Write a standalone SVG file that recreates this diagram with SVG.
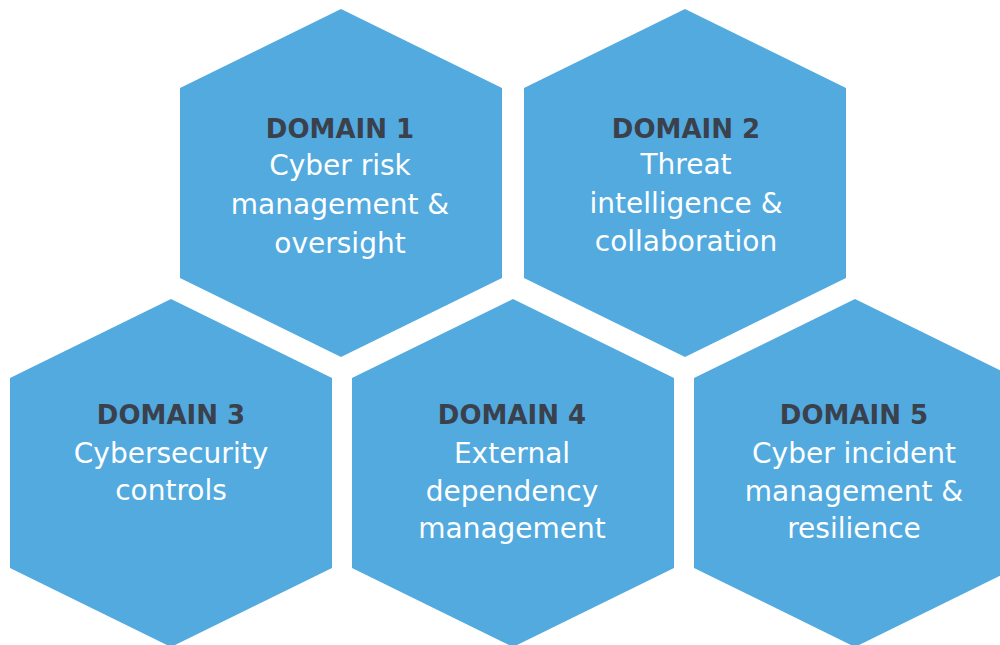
<svg xmlns="http://www.w3.org/2000/svg" width="1000" height="645" viewBox="0 0 1000 645">
<defs>
<style>
.hex{fill:#52aadf}
.t{font-family:"DejaVu Sans",Verdana,sans-serif;text-anchor:middle}
.h{font-size:26px;font-weight:bold;fill:#3a414d}
.b{font-size:28px;fill:#ffffff}
</style>
<polygon id="hx" points="0,-174 161,-95 161,95 0,174 -161,95 -161,-95"/>
</defs>
<rect width="1000" height="645" fill="#ffffff"/>
<g id="connectors"/>
<g id="domain1">
<use href="#hx" class="hex" x="341" y="183"/>
<text class="t h" x="340" y="138">DOMAIN 1</text>
<text class="t b" x="340" y="175">Cyber risk</text>
<text class="t b" x="340" y="214">management &amp;</text>
<text class="t b" x="340" y="253">oversight</text>
</g>
<g id="domain2">
<use href="#hx" class="hex" x="685" y="183"/>
<text class="t h" x="686" y="138">DOMAIN 2</text>
<text class="t b" x="686" y="174">Threat</text>
<text class="t b" x="686" y="213">intelligence &amp;</text>
<text class="t b" x="686" y="251">collaboration</text>
</g>
<g id="domain3">
<use href="#hx" class="hex" x="171" y="473"/>
<text class="t h" x="171" y="424">DOMAIN 3</text>
<text class="t b" x="171" y="463">Cybersecurity</text>
<text class="t b" x="171" y="500">controls</text>
</g>
<g id="domain4">
<use href="#hx" class="hex" x="513" y="473"/>
<text class="t h" x="512" y="424">DOMAIN 4</text>
<text class="t b" x="512" y="463">External</text>
<text class="t b" x="512" y="501">dependency</text>
<text class="t b" x="512" y="538">management</text>
</g>
<g id="domain5">
<use href="#hx" class="hex" x="855" y="473"/>
<text class="t h" x="854" y="424">DOMAIN 5</text>
<text class="t b" x="854" y="463">Cyber incident</text>
<text class="t b" x="854" y="501">management &amp;</text>
<text class="t b" x="854" y="538">resilience</text>
</g>
</svg>
